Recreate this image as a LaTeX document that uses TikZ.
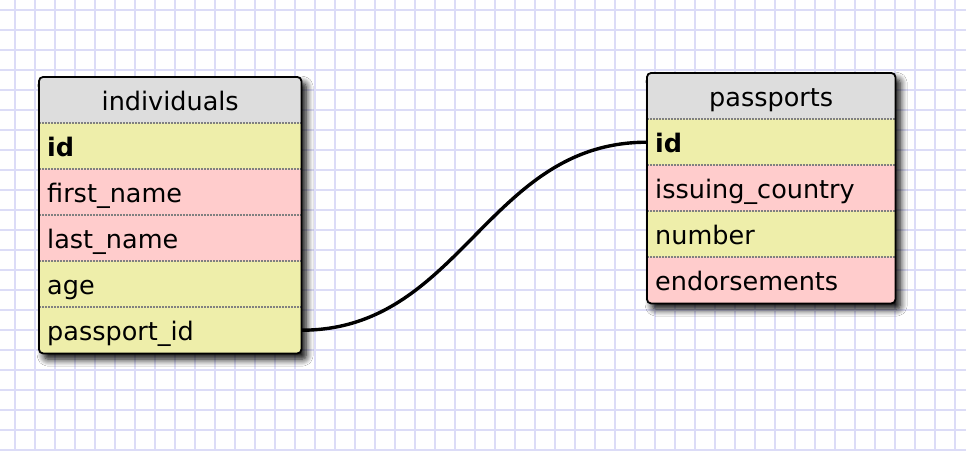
\documentclass[tikz,border=0pt]{standalone}
\usepackage{fontspec}
\setmainfont{DejaVu Sans}
\usetikzlibrary{shadows.blur}

\definecolor{gridline}{RGB}{220,220,247}
\definecolor{headgray}{RGB}{221,221,221}
\definecolor{keyyellow}{RGB}{238,238,170}
\definecolor{fieldpink}{RGB}{255,204,204}

\tikzset{
  grid line/.style={gridline, line width=1.6},
  table frame/.style={anchor=north west, inner sep=0, fill=white, rounded corners=4,
    blur shadow={shadow xshift=5pt, shadow yshift=-6pt, shadow blur radius=7pt,
      shadow blur steps=8, shadow opacity=100}},
  table border/.style={line width=1.8, rounded corners=4},
  field/.style={anchor=north west, minimum height=46, inner xsep=8, inner ysep=0,
    text height=22, text depth=2, align=left, font=\fontsize{25.5}{30}\selectfont},
  separator/.style={gray, line width=1.2, dash pattern=on 1.5pt off 1.5pt},
  relation/.style={line width=3.4}
}

\begin{document}
\begin{tikzpicture}[x=1pt, y=-1pt]

  \useasboundingbox (0,0) rectangle (966,450);
  \fill[white] (0,0) rectangle (966,450);

  % background grid
  \foreach \x in {15,35,...,955}
  \draw[grid line] (\x,0) -- (\x,450);
  \foreach \y in {10,30,...,450}
  \draw[grid line] (0,\y) -- (966,\y);

  % individuals table
  \node[table frame, minimum width=262, minimum height=276] (individuals) at (39,77) {};
  \begin{scope}
    \clip[rounded corners=4] (individuals.north west) rectangle (individuals.south east);
    \node[field, fill=headgray, text width=246, align=center] (individuals-0) at (39,77) {individuals};
    \foreach \t/\c [count=\i] in {\textbf{id}/keyyellow, first\_name/fieldpink,
      last\_name/fieldpink, age/keyyellow, passport\_id/keyyellow}
    \node[field, fill=\c, text width=246] (individuals-\i) at (39,77+46*\i) {\t};
    \foreach \i in {1,...,5}
    \draw[separator] (individuals-\i.north west) -- (individuals-\i.north east);
  \end{scope}
  \draw[table border] (individuals.north west) rectangle (individuals.south east);

  % passports table
  \node[table frame, minimum width=248, minimum height=230] (passports) at (647,73) {};
  \begin{scope}
    \clip[rounded corners=4] (passports.north west) rectangle (passports.south east);
    \node[field, fill=headgray, text width=232, align=center] (passports-0) at (647,73) {passports};
    \foreach \t/\c [count=\i] in {\textbf{id}/keyyellow, issuing\_country/fieldpink,
      number/keyyellow, endorsements/fieldpink}
    \node[field, fill=\c, text width=232] (passports-\i) at (647,73+46*\i) {\t};
    \foreach \i in {1,...,4}
    \draw[separator] (passports-\i.north west) -- (passports-\i.north east);
  \end{scope}
  \draw[table border] (passports.north west) rectangle (passports.south east);

  % relation
  \draw[relation] (individuals-5.east) .. controls +(160,0) and +(-160,0) .. (passports-1.west);

\end{tikzpicture}
\end{document}
